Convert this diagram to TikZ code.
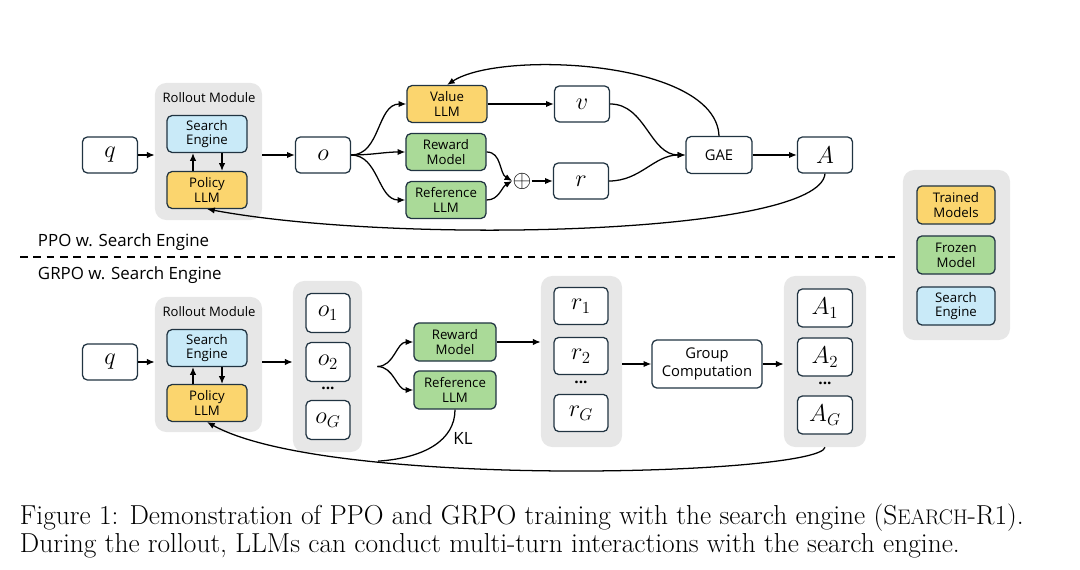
\documentclass[tikz,border=0pt]{standalone}
\usepackage{fontspec}
\newfontfamily\diagfont{Open Sans}
\usetikzlibrary{arrows.meta, positioning}

\definecolor{boxline}{RGB}{33,52,66}
\definecolor{trainfill}{RGB}{251,213,110}
\definecolor{frozenfill}{RGB}{170,218,152}
\definecolor{enginefill}{RGB}{201,234,248}
\definecolor{panelgray}{RGB}{231,231,231}

\begin{document}
\begin{tikzpicture}[
    x=0.025cm, y=-0.025cm,
    font=\diagfont,
    base/.style={
        draw=boxline, line width=0.9pt, rounded corners=3.5pt,
        align=center, inner sep=1pt
    },
    mathbox/.style={
        base, fill=white,
        minimum width=1.375cm, minimum height=0.9cm,
        font=\fontsize{18}{18}\selectfont
    },
    model/.style={
        base, minimum width=2cm, minimum height=0.92cm,
        font=\diagfont\fontsize{9.4}{10.5}\selectfont
    },
    trained/.style={model, fill=trainfill},
    frozen/.style={model, fill=frozenfill},
    engine/.style={model, fill=enginefill},
    panel/.style={fill=panelgray, rounded corners=8pt, inner sep=0pt},
    panellabel/.style={font=\diagfont\fontsize{9.3}{10}\selectfont},
    sectionlabel/.style={anchor=west, font=\diagfont\fontsize{12}{13}\selectfont},
    vdots/.style={font=\diagfont\bfseries\fontsize{11}{11}\selectfont},
    arrow/.style={-{Latex[length=5.5pt,width=4.5pt]}, line width=0.9pt},
    link/.style={line width=0.9pt},
]
\useasboundingbox (0,0) rectangle (1080,570);

% PPO row
\node[mathbox] (q1) at (110,155) {$q$};
\node[panel, minimum width=2.675cm, minimum height=3.425cm] (roll1) at (208.5,151.5) {};
\node[panellabel] (rlab1) at (209,98) {Rollout Module};
\node[engine] (srch1) at (207,134) {Search\\Engine};
\node[trained] (pol1) at (207,190) {Policy\\LLM};

\node[mathbox] (o) at (323,155) {$o$};
\node[trained] (val) at (447,104) {Value\\LLM};
\node[frozen] (rwd1) at (446,152) {Reward\\Model};
\node[frozen] (ref1) at (446,200) {Reference\\LLM};
\node[inner sep=0pt, font=\fontsize{19}{19}\selectfont] (plus) at (522,181) {$\oplus$};
\node[mathbox] (v) at (582,104) {$v$};
\node[mathbox] (r) at (581,181) {$r$};
\node[base, minimum width=1.65cm, minimum height=0.92cm,
      font=\diagfont\fontsize{10.5}{11}\selectfont] (gae) at (719,155) {GAE};
\node[mathbox] (adv) at (825,155) {$A$};

\draw[arrow] (q1) -- (q1.east -| roll1.west);
\draw[arrow] ([xshift=-0.35cm]pol1.north) -- ([xshift=-0.35cm]srch1.south);
\draw[arrow] ([xshift=0.375cm]srch1.south) -- ([xshift=0.375cm]pol1.north);
\draw[arrow] (o.west -| roll1.east) -- (o);
\draw[arrow] (o.east) to[out=0, in=180] (val.west);
\draw[arrow] (o.east) to[out=0, in=180] (rwd1.west);
\draw[arrow] (o.east) to[out=0, in=180] (ref1.west);
\draw[arrow] (rwd1.east) to[out=0, in=150] (plus.west);
\draw[arrow] (ref1.east) to[out=0, in=210] (plus.west);
\draw[arrow] (plus) -- (r);
\draw[arrow] (val) -- (v);
\draw[arrow] (v.east) to[out=0, in=180] (gae.west);
\draw[arrow] (r.east) to[out=0, in=180] (gae.west);
\draw[arrow] (gae) -- (adv);
\draw[arrow] (gae.north) .. controls (716,60) and (500,50) .. (val.north);
\draw[arrow] (adv.south) .. controls (820,235) and (400,245) .. (pol1.south);

% separator
\node[sectionlabel] (ppo) at (33,242) {PPO w. Search Engine};
\coordinate (dl) at (20,257);
\coordinate (dr) at (895,257);
\draw[line width=0.9pt, dash pattern=on 5.5pt off 4pt] (dl) -- (dr);
\node[sectionlabel] (grpo) at (33,275) {GRPO w. Search Engine};

% legend
\node[panel, minimum width=2.675cm, minimum height=4.25cm] (legend) at (956.5,255) {};
\node[trained, minimum width=1.95cm, minimum height=0.95cm] (legtr) at (956,205) {Trained\\Models};
\node[frozen, minimum width=1.95cm, minimum height=0.95cm] (legfr) at (956,255) {Frozen\\Model};
\node[engine, minimum width=1.95cm, minimum height=0.95cm] (legse) at (956,306) {Search\\Engine};

% GRPO row
\node[mathbox] (q2) at (110,362) {$q$};
\node[panel, minimum width=2.675cm, minimum height=3.375cm] (roll2) at (208.5,364.5) {};
\node[panellabel] (rlab2) at (209,312) {Rollout Module};
\node[engine] (srch2) at (207,348) {Search\\Engine};
\node[trained] (pol2) at (207,403) {Policy\\LLM};

\node[panel, minimum width=1.725cm, minimum height=4.275cm] (ocol) at (327.5,366.5) {};
\node[mathbox, minimum width=1.1cm, minimum height=0.97cm] (o1) at (328,313) {$o_1$};
\node[mathbox, minimum width=1.1cm, minimum height=0.97cm] (o2) at (328,362) {$o_2$};
\node[vdots] (odots) at (328,388) {...};
\node[mathbox, minimum width=1.1cm, minimum height=0.97cm] (oG) at (328,420) {$o_G$};

\node[frozen, minimum width=2.05cm, minimum height=0.95cm] (rwd2) at (455,342) {Reward\\Model};
\node[frozen, minimum width=2.05cm, minimum height=0.95cm] (ref2) at (455,390) {Reference\\LLM};

\node[panel, minimum width=2.025cm, minimum height=4.275cm] (rcol) at (581.5,361.5) {};
\node[mathbox, minimum width=1.35cm, minimum height=0.93cm] (r1) at (581,306) {$r_1$};
\node[mathbox, minimum width=1.35cm, minimum height=0.93cm] (r2) at (581,356) {$r_2$};
\node[vdots] (rdots) at (581,382) {...};
\node[mathbox, minimum width=1.35cm, minimum height=0.93cm] (rG) at (581,413) {$r_G$};

\node[base, minimum width=2.75cm, minimum height=1.2cm,
      font=\diagfont\fontsize{10.5}{13}\selectfont] (group) at (707,364) {Group\\Computation};

\node[panel, minimum width=2.05cm, minimum height=4.275cm] (acol) at (825,361.5) {};
\node[mathbox, minimum width=1.375cm, minimum height=0.95cm] (A1) at (825,308) {$A_1$};
\node[mathbox, minimum width=1.375cm, minimum height=0.95cm] (A2) at (825,357) {$A_2$};
\node[vdots] (adots) at (825,383) {...};
\node[mathbox, minimum width=1.375cm, minimum height=0.95cm] (AG) at (825,415) {$A_G$};

\draw[arrow] (q2) -- (q2.east -| roll2.west);
\draw[arrow] ([xshift=-0.35cm]pol2.north) -- ([xshift=-0.35cm]srch2.south);
\draw[arrow] ([xshift=0.375cm]srch2.south) -- ([xshift=0.375cm]pol2.north);
\draw[arrow] (q2.east -| roll2.east) -- (q2.east -| ocol.west);
\coordinate (fork) at ([xshift=0.375cm]ocol.east);
\draw[arrow] (fork) to[out=0, in=180] (rwd2.west);
\draw[arrow] (fork) to[out=0, in=180] (ref2.west);
\draw[arrow] (rwd2.east) -- (rwd2.east -| rcol.west);
\draw[arrow] (group.west -| rcol.east) -- (group.west);
\draw[arrow] (group.east) -- (group.east -| acol.west);
\draw[arrow] (acol.south) .. controls (820,475) and (330,490) .. (pol2.south)
    coordinate[pos=0.72] (kljoin);
\draw[link] (ref2.south) .. controls (455,440) and (425,458) .. (kljoin);
\node[font=\diagfont\fontsize{12}{12}\selectfont] (kl) at (463,438) {KL};

% caption
\node[anchor=base west, font=\rmfamily\fontsize{19.5}{22}\selectfont] (cap1) at (15,524)
    {Figure 1: Demonstration of PPO and GRPO training with the search engine (S{\fontsize{15}{16}\selectfont EARCH}-R1).};
\node[anchor=base west, font=\rmfamily\fontsize{19.5}{22}\selectfont] (cap2) at (15,552)
    {During the rollout, LLMs can conduct multi-turn interactions with the search engine.};
\end{tikzpicture}
\end{document}
